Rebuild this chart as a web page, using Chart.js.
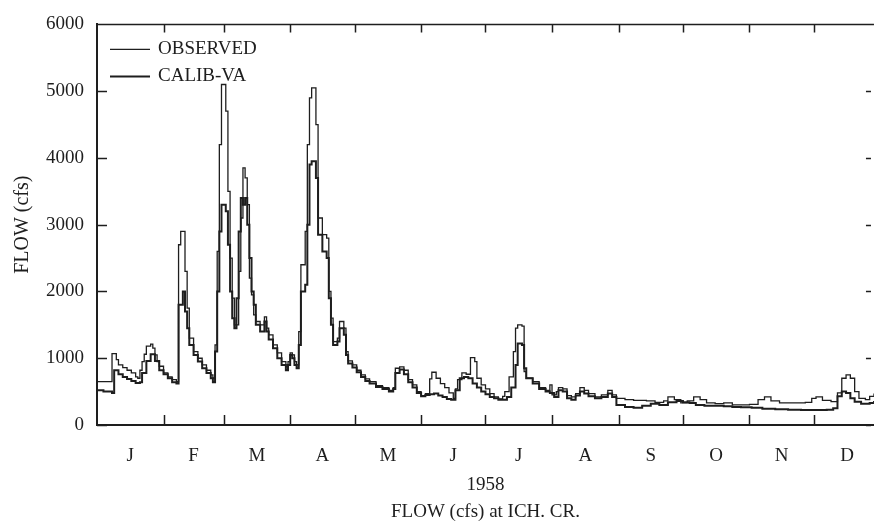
<!DOCTYPE html>
<html>
<head>
<meta charset="utf-8">
<script src="https://cdn.jsdelivr.net/npm/chart.js@4"></script>
<style>
	body { margin: 0; background: #fff; }
	#box { width: 874px; height: 529px; }
</style>
</head>
<body>
<div id="box"><canvas id="flowChart"></canvas></div>
<script>
// day of year 1958 (0 = Jan 1) and flow in cfs
let obsDays = [0,6,7,9,10,12,14,16,18,19,20,21,22,23,25,26,27,28,29,31,33,35,37,38,39,41,42,43,45,47,49,51,53,54,55,56,57,58,60,61,62,63,64,65,66,67,68,69,70,71,72,73,74,76,78,79,80,82,84,86,88,89,90,91,92,93,94,95,97,98,99,100,102,103,105,107,108,109,110,112,113,115,116,117,119,121,123,125,127,130,133,136,138,139,141,143,145,147,149,151,153,155,156,158,160,162,164,166,167,168,170,172,174,176,177,179,181,183,185,187,189,190,192,194,195,196,198,199,200,203,206,209,211,212,214,215,217,219,221,223,225,227,229,232,235,238,240,242,246,250,256,260,264,266,269,272,275,278,281,284,288,292,296,300,304,308,311,314,318,324,330,333,335,338,342,345,347,349,351,353,355,358,360,362];
let obsFlow = [650,650,1070,980,900,860,820,780,720,700,820,950,1060,1180,1210,1150,1050,950,880,780,720,680,650,2700,2900,2300,1750,1300,1100,1000,900,820,750,700,1200,2600,4200,5100,4700,3500,2500,1900,1500,1500,2300,3100,3850,3700,3300,2200,1950,1650,1550,1500,1620,1450,1350,1200,1080,950,870,950,1080,1050,950,900,1400,2400,2900,4200,4900,5050,4500,3100,2850,2800,2000,1600,1250,1300,1550,1450,1100,960,900,820,750,690,650,590,560,520,560,850,870,820,680,600,500,440,470,690,790,700,620,560,480,400,540,680,780,760,1010,950,700,600,540,470,420,390,430,500,720,1100,1450,1500,1480,800,700,650,560,520,600,450,500,560,540,440,420,470,560,520,470,420,450,520,450,400,380,370,360,340,360,420,380,330,360,420,380,330,320,330,300,300,310,380,420,360,330,330,340,400,420,370,350,480,700,750,700,500,400,380,430,470];

let calDays = [0,3,7,8,10,12,14,16,18,20,21,23,25,27,29,31,33,35,37,38,40,41,42,43,45,47,49,51,53,54,55,56,57,58,60,61,62,63,64,65,66,67,68,69,70,71,72,73,74,76,78,79,80,82,84,86,88,89,90,91,92,93,94,95,97,98,99,100,102,103,105,107,108,109,110,112,113,115,116,117,119,121,123,125,127,130,133,136,138,139,141,143,145,147,149,151,153,155,157,159,161,163,165,167,169,171,173,175,177,179,181,183,185,187,189,191,193,195,196,198,199,200,203,206,209,211,213,215,217,219,221,223,225,227,229,232,235,238,240,242,246,250,254,258,262,266,270,273,276,279,283,288,292,296,300,305,310,316,322,328,334,340,343,345,347,349,351,353,356,360,362];
let calFlow = [520,500,480,820,760,720,690,660,630,640,780,960,1060,960,820,760,700,640,620,1800,2000,1700,1450,1200,1050,950,850,780,700,640,1100,2000,2900,3300,3200,2700,2000,1600,1450,1900,2900,3400,3300,3400,3000,2500,2000,1800,1500,1400,1550,1400,1280,1150,1000,900,820,900,1050,1000,900,850,1200,2000,2100,3000,3900,3950,3700,2850,2600,2500,1900,1500,1200,1250,1450,1350,1050,920,860,790,720,660,620,570,540,500,540,780,830,760,640,560,480,430,450,460,470,440,420,390,380,520,700,720,700,620,560,500,460,420,400,380,380,420,560,900,1220,1200,850,700,620,540,500,480,420,520,500,400,380,440,500,470,430,400,420,470,420,300,270,260,290,320,300,340,360,340,330,300,290,290,280,270,265,260,245,235,230,225,225,230,250,430,500,480,400,350,320,330,360];

// month boundaries and the letters that sit between them
let monthStarts = [0,31,59,90,120,151,181,212,243,273,304,334];
let monthMids = [15.5,45,74.5,105,135.5,166,196.5,227.5,258,288.5,319,349.5];
let monthLetters = ['J','F','M','A','M','J','J','A','S','O','N','D'];
let flowTicks = [0,1000,2000,3000,4000,5000,6000];

const serif = "'Liberation Serif', 'Times New Roman', serif";
const ink = '#1e1e1e';

function toPoints(days, flows) {
	return days.map((d, i) => ({x: d, y: flows[i]}));
}

// inward tick marks, the top frame line and the little legend in the corner
const frameTicks = {
	id: 'frameTicks',
	afterDraw(chart) {
		const ctx = chart.ctx;
		const a = chart.chartArea;
		const xs = chart.scales.x;
		const ys = chart.scales.y;
		ctx.save();
		ctx.strokeStyle = ink;
		ctx.lineWidth = 1.5;
		ctx.beginPath();
		ctx.moveTo(a.left, a.top);
		ctx.lineTo(a.right, a.top);
		monthStarts.forEach(d => {
			if (d == 0) return;
			const px = Math.round(xs.getPixelForValue(d)) + 0.5;
			ctx.moveTo(px, a.bottom);
			ctx.lineTo(px, a.bottom - 10);
			ctx.moveTo(px, a.top);
			ctx.lineTo(px, a.top + 8);
		});
		flowTicks.forEach(v => {
			const py = Math.round(ys.getPixelForValue(v)) + 0.5;
			ctx.moveTo(a.left, py);
			ctx.lineTo(a.left + 10, py);
			ctx.moveTo(a.right - 3, py);
			ctx.lineTo(a.right - 8, py);
		});
		ctx.stroke();

		// legend
		ctx.font = '19px ' + serif;
		ctx.fillStyle = ink;
		ctx.textBaseline = 'middle';
		chart.data.datasets.forEach((ds, i) => {
			const y = a.top + 25 + i * 27;
			ctx.lineWidth = ds.borderWidth;
			ctx.beginPath();
			ctx.moveTo(a.left + 13, y);
			ctx.lineTo(a.left + 53, y);
			ctx.stroke();
			ctx.fillText(ds.label, a.left + 61, y);
		});
		ctx.restore();
	}
};

const flowData = {
	datasets: [{
		label: 'OBSERVED',
		data: toPoints(obsDays, obsFlow),
		borderColor: ink,
		backgroundColor: ink,
		borderWidth: 1.3,
		stepped: true,
		pointRadius: 0,
		fill: false
	}, {
		label: 'CALIB-VA',
		data: toPoints(calDays, calFlow),
		borderColor: ink,
		backgroundColor: ink,
		borderWidth: 2,
		stepped: true,
		pointRadius: 0,
		fill: false
	}]
};

const configFlow = {
	type: 'line',
	data: flowData,
	plugins: [frameTicks],
	options: {
		responsive: true,
		maintainAspectRatio: false,
		animation: false,
		layout: { padding: { top: 20, right: 0, left: 0, bottom: 0 } },
		plugins: {
			tooltip: { enabled: false },
			legend: { display: false }
		},
		scales: {
			x: {
				type: 'linear',
				min: 0,
				max: 362,
				grid: { display: false, drawTicks: false },
				border: { display: true, color: ink, width: 2 },
				afterBuildTicks: scale => {
					scale.ticks = monthMids.map(v => ({value: v}));
				},
				afterFit: scale => { scale.height = 104; },
				ticks: {
					autoSkip: false,
					maxRotation: 0,
					padding: 20,
					color: ink,
					font: { family: serif, size: 19 },
					callback: (value, index) => monthLetters[index]
				},
				title: {
					display: true,
					text: ['1958', 'FLOW (cfs) at ICH. CR.'],
					color: ink,
					font: { family: serif, size: 19, lineHeight: 1.4 },
					padding: { top: 0, bottom: 4 }
				}
			},
			y: {
				min: 0,
				max: 6000,
				grid: { display: false, drawTicks: false },
				border: { display: true, color: ink, width: 2 },
				afterBuildTicks: scale => {
					scale.ticks = flowTicks.map(v => ({value: v}));
				},
				afterFit: scale => { scale.width = 97; },
				ticks: {
					padding: 13,
					color: ink,
					font: { family: serif, size: 19 },
					callback: value => String(value)
				},
				title: {
					display: true,
					text: 'FLOW (cfs)',
					color: ink,
					font: { family: serif, size: 20 },
					padding: { top: 11, bottom: 0 }
				}
			}
		}
	}
};

const flowChart = new Chart(
	document.getElementById('flowChart'),
	configFlow
);
</script>
</body>
</html>
